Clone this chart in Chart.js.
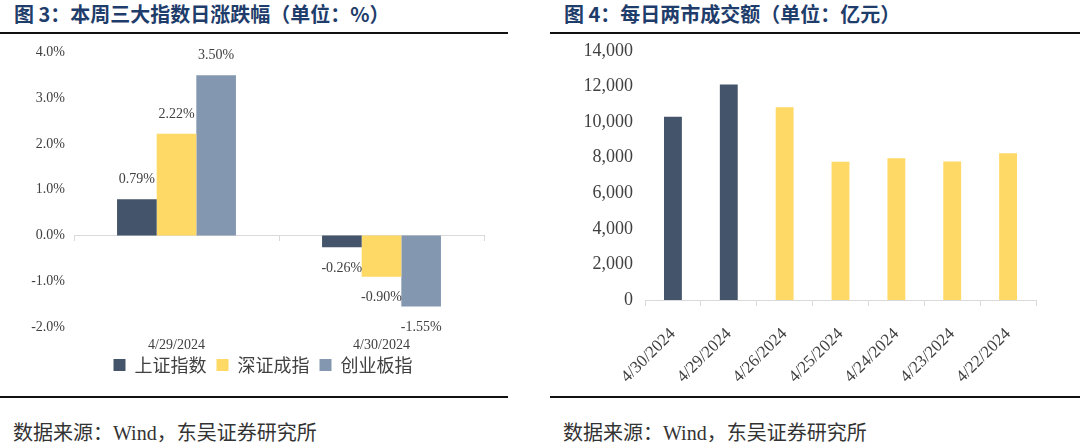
<!DOCTYPE html>
<html>
<head>
<meta charset="utf-8">
<script src="https://cdn.jsdelivr.net/npm/chart.js@4.4.1/dist/chart.umd.min.js"></script>
<style>
  body { margin: 0; width: 1080px; height: 443px; background: #fff; position: relative; overflow: hidden;
         font-family: "Noto Sans CJK SC", sans-serif; }
  .title { position: absolute; top: 2px; font-size: 20px; font-weight: bold; color: #1f3d6b;
           white-space: nowrap; line-height: 24px; }
  .rule { position: absolute; height: 2px; background: #111; }
  .src { position: absolute; top: 420px; font-size: 20px; color: #333; white-space: nowrap; line-height: 24px; }
  .src span { font-family: "Liberation Serif", serif; font-size: 20px; }
  .box { position: absolute; }
</style>
</head>
<body>
<div class="title" style="left:14px">图 3：本周三大指数日涨跌幅（单位：%）</div>
<div class="title" style="left:564px">图 4：每日两市成交额（单位：亿元）</div>
<div class="rule" style="left:0;width:508px;top:32px"></div>
<div class="rule" style="left:550px;width:530px;top:32px"></div>
<div class="rule" style="left:0;width:508px;top:396px"></div>
<div class="rule" style="left:550px;width:530px;top:396px"></div>
<div class="src" style="left:13px">数据来源：<span>Wind</span>，东吴证券研究所</div>
<div class="src" style="left:563px">数据来源：<span>Wind</span>，东吴证券研究所</div>

<div class="box" style="left:0;top:35px;width:526px;height:357px"><canvas id="indexChart"></canvas></div>
<div class="box" style="left:550px;top:28px;width:530px;height:362px"><canvas id="turnoverChart"></canvas></div>

<script>
// 图3 data
const indexDates = ['4/29/2024', '4/30/2024'];
const shanghai = [0.79, -0.26];
const shenzhen = [2.22, -0.90];
const chinext = [3.50, -1.55];

// 图4 data
const tradeDates = ['4/30/2024', '4/29/2024', '4/26/2024', '4/25/2024', '4/24/2024', '4/23/2024', '4/22/2024'];
const turnover = [10300, 12100, 10830, 7760, 7960, 7780, 8240];
const turnoverTicks = [0, 2000, 4000, 6000, 8000, 10000, 12000, 14000];

const DARK = '#44546a';
const YELLOW = '#ffd966';
const SLATE = '#8497b0';
const TEXT = '#404040';
const AXIS = '#d9d9d9';
const serif = '"Liberation Serif", "Times New Roman", serif';

// value labels above positive bars, below negative ones
const barLabels = {
    id: 'barLabels',
    afterDatasetsDraw(chart) {
        const ctx = chart.ctx;
        ctx.save();
        ctx.font = '14px ' + serif;
        ctx.fillStyle = TEXT;
        ctx.textAlign = 'center';
        ctx.textBaseline = 'middle';
        chart.data.datasets.forEach((ds, i) => {
            chart.getDatasetMeta(i).data.forEach((bar, j) => {
                const v = ds.data[j];
                const y = v >= 0 ? bar.y - 20 : bar.y + 21;
                ctx.fillText(v.toFixed(2) + '%', bar.x, y);
            });
        });
        ctx.restore();
    }
};

// nudge the legend so it sits where the original one does
const legendShift = {
    id: 'legendShift',
    afterLayout(chart) {
        const lg = chart.legend;
        lg.left += 21; lg.right += 21;
        lg.top -= 8; lg.bottom -= 8;
    }
};

new Chart(document.getElementById('indexChart'), {
    type: 'bar',
    data: {
        labels: indexDates,
        datasets: [
            { label: '上证指数', data: shanghai, backgroundColor: DARK },
            { label: '深证成指', data: shenzhen, backgroundColor: YELLOW },
            { label: '创业板指', data: chinext, backgroundColor: SLATE }
        ]
    },
    options: {
        responsive: true,
        maintainAspectRatio: false,
        animation: false,
        categoryPercentage: 0.58,
        barPercentage: 1,
        layout: { padding: { top: 10, right: 42, bottom: 0, left: 0 } },
        plugins: {
            legend: {
                position: 'bottom',
                labels: {
                    boxWidth: 12, boxHeight: 12, padding: 10, color: TEXT,
                    font: { family: '"Noto Sans CJK SC", sans-serif', size: 18 }
                }
            },
            tooltip: { enabled: false }
        },
        scales: {
            x: {
                position: { y: 0 },
                grid: { drawOnChartArea: false, color: AXIS, tickLength: 5 },
                border: { color: AXIS },
                ticks: { display: false }
            },
            x2: {
                type: 'category',
                axis: 'x',
                position: 'bottom',
                grid: { display: false, drawTicks: false },
                border: { display: false },
                afterFit(scale) { scale.height = 27; },
                ticks: { color: TEXT, padding: 10, font: { family: serif, size: 14 } }
            },
            y: {
                min: -2, max: 4,
                grid: { display: false, drawTicks: false },
                border: { display: false },
                afterFit(scale) { scale.width = 74; },
                ticks: {
                    stepSize: 1, padding: 9, color: TEXT,
                    font: { family: serif, size: 14 },
                    callback: v => v.toFixed(1) + '%'
                }
            }
        }
    },
    plugins: [barLabels, legendShift]
});

new Chart(document.getElementById('turnoverChart'), {
    type: 'bar',
    data: {
        labels: tradeDates,
        datasets: [{
            label: '成交额',
            data: turnover,
            backgroundColor: ctx => ctx.dataIndex < 2 ? DARK : YELLOW
        }]
    },
    options: {
        responsive: true,
        maintainAspectRatio: false,
        animation: false,
        categoryPercentage: 1,
        barPercentage: 0.32,
        layout: { padding: { top: 5, right: 44, bottom: 0, left: 0 } },
        plugins: { legend: { display: false }, tooltip: { enabled: false } },
        scales: {
            x: {
                grid: { drawOnChartArea: false, color: AXIS, tickLength: 6 },
                border: { color: AXIS },
                afterFit(scale) { scale.height = 90; },
                ticks: {
                    color: TEXT, padding: 18, minRotation: 45, maxRotation: 45,
                    font: { family: serif, size: 17 }
                }
            },
            y: {
                min: 0, max: 14000,
                grid: { display: false, drawTicks: false },
                border: { display: false },
                afterFit(scale) { scale.width = 95; },
                afterBuildTicks(scale) { scale.ticks = turnoverTicks.map(v => ({ value: v })); },
                ticks: {
                    padding: 12, color: TEXT,
                    font: { family: serif, size: 18 },
                    callback: v => v.toLocaleString('en-US')
                }
            }
        }
    }
});
</script>
</body>
</html>
